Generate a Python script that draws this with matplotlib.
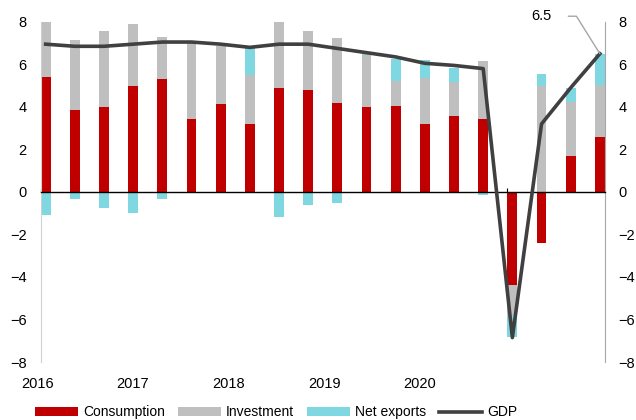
import numpy as np
from matplotlib import pyplot as plt
from matplotlib import transforms

plt.rcParams['font.family'] = ['Liberation Sans', 'DejaVu Sans']

# quarterly contributions to GDP growth, 2016Q1 - 2020Q4
consumption = [5.4, 3.85, 4.0, 5.0, 5.3, 3.45, 4.15, 3.2, 4.9, 4.8,
               4.2, 4.0, 4.05, 3.2, 3.55, 3.45, -4.4, -2.4, 1.7, 2.6]
investment = [2.6, 3.3, 3.55, 2.9, 2.0, 3.6, 2.7, 2.3, 3.15, 2.75,
              3.05, 2.45, 1.15, 2.15, 1.6, 2.7, -1.45, 5.0, 2.55, 2.45]
net_exports = [-1.1, -0.35, -0.75, -1.0, -0.35, 0.0, 0.0, 1.25, -1.2, -0.6,
               -0.5, 0.05, 1.05, 0.85, 0.7, -0.15, -0.95, 0.55, 0.65, 1.45]
gdp = [6.95, 6.85, 6.85, 6.95, 7.05, 7.05, 6.95, 6.8, 6.95, 6.95,
       6.75, 6.55, 6.35, 6.05, 5.95, 5.8, -6.85, 3.2, 4.9, 6.5]
years = ['2016', '2017', '2018', '2019', '2020']
year_label_pos = [-0.28, 2.97, 6.28, 9.55, 12.82]

RED = '#C00000'
GREY = '#BFBFBF'
CYAN = '#7FD7E1'
LINE = '#404040'
BAR_W = 0.34
FS = 10.5

fig = plt.figure(figsize=(6.36, 4.2), dpi=100)
ax = fig.add_axes([0.064, 0.138, 0.887, 0.81])

x = np.arange(len(gdp))
pos_base = np.zeros(len(x))
neg_base = np.zeros(len(x))
handles = []
for vals, color, name in [(consumption, RED, 'Consumption'),
                          (investment, GREY, 'Investment'),
                          (net_exports, CYAN, 'Net exports')]:
    vals = np.array(vals)
    bottom = np.where(vals >= 0, pos_base, neg_base)
    h = ax.bar(x, vals, BAR_W, bottom=bottom, color=color, label=name, zorder=2)
    handles.append(h)
    pos_base = pos_base + np.clip(vals, 0, None)
    neg_base = neg_base + np.clip(vals, None, 0)

line, = ax.plot(x, gdp, color=LINE, lw=2.6, label='GDP', zorder=3)
handles.append(line)

ax.annotate(f'{gdp[-1]:.1f}', xy=(x[-1], gdp[-1]), xytext=(-42, 27),
            textcoords='offset points', ha='center', va='center', fontsize=FS,
            arrowprops=dict(arrowstyle='-', color='#A6A6A6', lw=1,
                            connectionstyle='angle,angleA=0,angleB=122,rad=0',
                            shrinkA=10, shrinkB=0),
            annotation_clip=False)

ax.set_xlim(-BAR_W / 2, len(x) - 1 + BAR_W / 2)
ax.set_ylim(-8, 8)
ax.set_yticks(range(-8, 9, 2))
ax.tick_params(axis='y', length=0, labelsize=FS, pad=10,
               labelright=True, right=False)

# x axis sits on zero, small ticks at year boundaries
ax.spines['bottom'].set_position(('data', 0))
ax.spines['bottom'].set_linewidth(1)
ax.spines['top'].set_visible(False)
ax.spines['left'].set_color('#D0D0D0')
ax.spines['right'].set_color('#A6A6A6')
ax.set_xticks(np.arange(0, len(x), 4) - BAR_W / 2)
ax.set_xticklabels([])
ax.tick_params(axis='x', direction='in', length=3, width=0.8)

trans = transforms.blended_transform_factory(ax.transData, ax.transAxes)
for xp, yr in zip(year_label_pos, years):
    ax.text(xp, -0.065, yr, transform=trans, ha='center', va='center',
            fontsize=FS)

fig.legend(handles=handles, loc='center', bbox_to_anchor=(0.434, 0.018),
           ncol=4, frameon=False, fontsize=10, handlelength=3.1,
           handleheight=0.65, handletextpad=0.36, columnspacing=0.93,
           borderaxespad=0, borderpad=0)

fig.savefig('out.png', dpi=100)
